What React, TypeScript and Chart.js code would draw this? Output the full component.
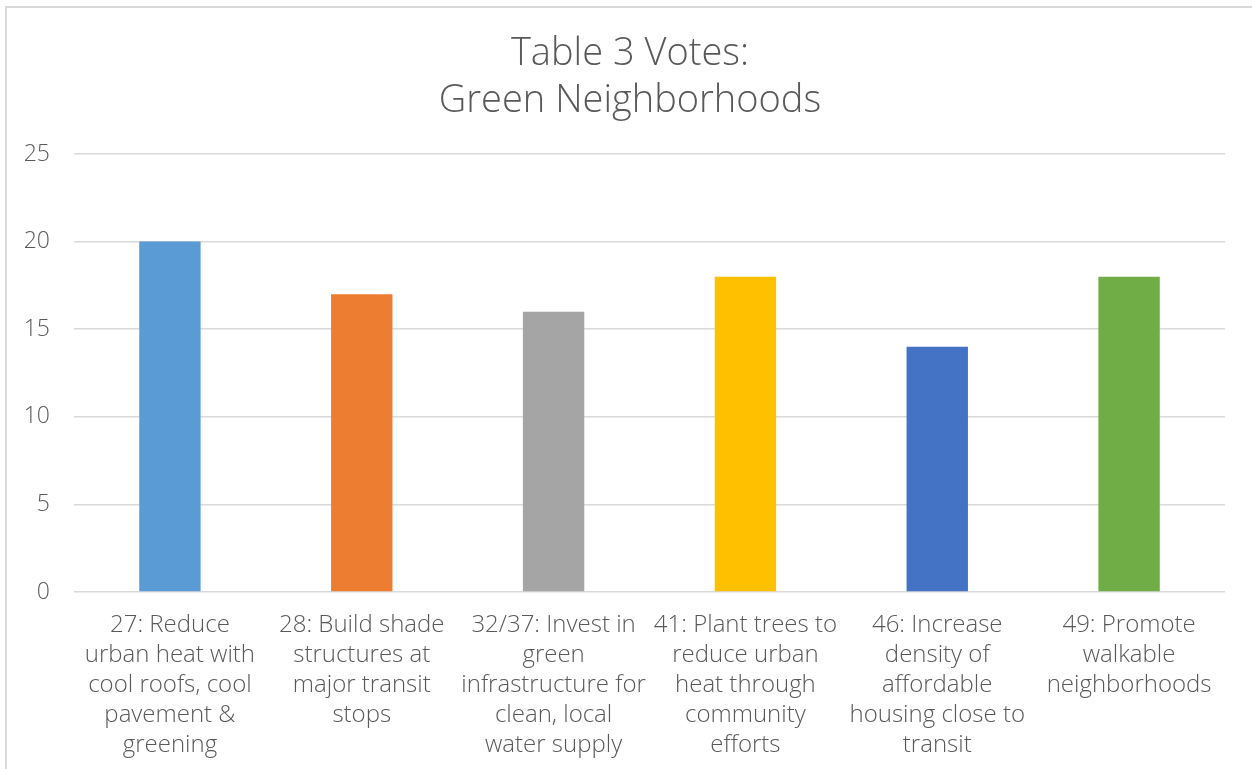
import React, { useEffect, useRef } from "react";
import { Chart, registerables } from "chart.js";

Chart.register(...registerables);

const categories: string[][] = [
  ["27: Reduce", "urban heat with", "cool roofs, cool", "pavement &", "greening"],
  ["28: Build shade", "structures at", "major transit", "stops"],
  ["32/37: Invest in", "green", "infrastructure for", "clean, local", "water supply"],
  ["41: Plant trees to", "reduce urban", "heat through", "community", "efforts"],
  ["46: Increase", "density of", "affordable", "housing close to", "transit"],
  ["49: Promote", "walkable", "neighborhoods"],
];
const votes: number[] = [20, 17, 16, 18, 14, 18];
const barColors: string[] = ["#5B9BD5", "#ED7D31", "#A5A5A5", "#FFC000", "#4472C4", "#70AD47"];
const titleLines: string[] = ["Table 3 Votes:", "Green Neighborhoods"];

const FONT = "'Open Sans', 'DejaVu Sans', sans-serif";
const TEXT = "#595959";
const GRID = "#d9d9d9";

export default function App() {
  const ref = useRef<HTMLCanvasElement | null>(null);

  useEffect(() => {
    if (!ref.current) return;
    const chart = new Chart(ref.current, {
      type: "bar",
      data: {
        labels: categories,
        datasets: [
          {
            label: "Votes",
            data: votes,
            backgroundColor: barColors,
            borderWidth: 0,
            categoryPercentage: 1,
            barPercentage: 0.32,
          },
        ],
      },
      options: {
        animation: false,
        responsive: false,
        devicePixelRatio: 1,
        layout: { padding: 0 },
        plugins: {
          legend: { display: false },
          tooltip: { enabled: false },
          title: {
            display: true,
            text: titleLines,
            color: TEXT,
            font: { family: FONT, size: 38, weight: 300, lineHeight: 1.237 },
            padding: { top: 31, bottom: 29 },
          },
        },
        scales: {
          x: {
            grid: { display: false },
            border: { display: false },
            ticks: {
              color: TEXT,
              font: { family: FONT, size: 24, weight: 300, lineHeight: 1.25 },
              maxRotation: 0,
              minRotation: 0,
              autoSkip: false,
              padding: 10,
            },
            afterFit: (scale: any) => {
              scale.height = 177;
            },
          },
          y: {
            min: 0,
            max: 25,
            border: { display: false },
            grid: { color: GRID, lineWidth: 1.5, drawTicks: false },
            ticks: {
              stepSize: 5,
              color: TEXT,
              font: { family: FONT, size: 23, weight: 300 },
              padding: 24,
            },
            afterFit: (scale: any) => {
              scale.width = 74;
            },
          },
          yRight: {
            position: "right",
            min: 0,
            max: 25,
            border: { display: false },
            grid: { display: false },
            ticks: { display: false },
            afterFit: (scale: any) => {
              scale.width = 35;
            },
          },
        },
      },
    });
    return () => chart.destroy();
  }, []);

  return (
    <div style={{ position: "fixed", left: 0, top: 0, width: 1252, height: 769, overflow: "hidden", background: "#fff" }}>
      <div
        style={{
          position: "absolute",
          left: 5,
          top: 6,
          width: 1300,
          height: 800,
          border: `2px solid ${GRID}`,
          boxSizing: "border-box",
        }}
      />
      <canvas ref={ref} width={1260} height={769} style={{ position: "absolute", left: 0, top: 0, width: 1260, height: 769 }} />
    </div>
  );
}
